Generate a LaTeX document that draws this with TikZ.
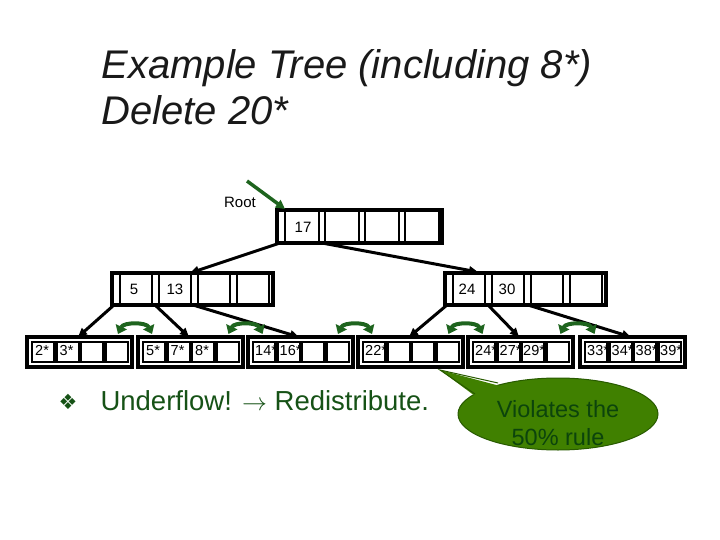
\documentclass[tikz,border=0pt]{standalone}
\usepackage{fontspec}
\setmainfont{Liberation Sans}
\newfontfamily\dingfont{DejaVu Sans}
\usetikzlibrary{arrows.meta,shapes.geometric}
\definecolor{treegreen}{RGB}{30,100,30}
\definecolor{bubblegreen}{RGB}{64,128,0}
\definecolor{bubbleedge}{RGB}{40,90,0}
\definecolor{textgreen}{RGB}{22,82,22}
\definecolor{bubbletext}{RGB}{12,68,12}

\begin{document}
\begin{tikzpicture}[x=1pt, y=-1pt,
        ptr/.style={line width=3pt, -{Triangle[length=9pt,width=8pt]}},
        swing/.style={treegreen, line width=4pt, {Triangle[length=8pt,width=12pt]}-{Triangle[length=8pt,width=12pt]}},
        key/.style={font=\fontsize{15}{17}\selectfont, inner sep=0pt},
        entry/.style={font=\fontsize{14.5}{16}\selectfont, inner sep=0pt, anchor=north west}]
    \useasboundingbox (0,0) rectangle (720,540);

    \node[anchor=base west, font=\fontsize{40}{48}\selectfont\itshape, text=black!90] (title) at (98,79) {Example Tree (including 8*)};
    \node[anchor=base west, font=\fontsize{40}{48}\selectfont\itshape, text=black!90] (subtitle) at (98,125) {Delete 20*};

    % root
    \draw[line width=3.5pt] (277,210) rectangle (442,243);
    \foreach \i in {0,...,3} {
        \draw[line width=2.5pt] (285+40*\i,210) rectangle ++(34,33);
    }
    \node[key] (k17) at (303,227) {17};

    % inner nodes
    \foreach \x in {112,445} {
        \draw[line width=3.5pt] (\x,273) rectangle ++(161,32);
        \foreach \i in {0,...,3} {
            \draw[line width=2.5pt] (\x+8+39*\i,273) rectangle ++(32,32);
        }
    }
    \node[key] (k5) at (134,289) {5};
    \node[key] (k13) at (175,289) {13};
    \node[key] (k24) at (467,289) {24};
    \node[key] (k30) at (507,289) {30};

    % leaves
    \foreach \x [count=\n] in {27,138,248,358,468,580} {
        \draw[line width=3.5pt] (\x,337) rectangle ++(105,30);
        \foreach \i in {0,...,3} {
            \draw[line width=2.5pt] (\x+5+24.5*\i,342) rectangle ++(22.5,20);
        }
        \coordinate (leaf\n) at (\x+51,337);
    }
    \foreach \name/\pos/\txt in {e2/35/2*, e3/59.5/3*,
                                 e5/146/5*, e7/170.5/7*, e8/195/8*,
                                 e14/255/14*, e16/279.5/16*,
                                 e22/365/22*,
                                 e24/475/24*, e27/499.5/27*, e29/523/29*,
                                 e33/587/33*, e34/611.5/34*, e38/635.5/38*, e39/660/39*} {
        \node[entry] (\name) at (\pos,345) {\txt};
    }

    % pointers
    \coordinate (rootp0) at (280,243);
    \coordinate (rootp1) at (322,243);
    \coordinate (inl) at (190,273);
    \coordinate (inr) at (478,272);
    \draw[ptr] (rootp0) -- (inl);
    \draw[ptr] (rootp1) -- (inr);

    \coordinate (lp0) at (114,305);
    \coordinate (lp1) at (155,305);
    \coordinate (lp2) at (193,305);
    \coordinate (rp0) at (447,305);
    \coordinate (rp1) at (488,305);
    \coordinate (rp2) at (528,305);
    \draw[ptr] (lp0) -- (leaf1);
    \draw[ptr] (lp1) -- (leaf2);
    \draw[ptr] (lp2) -- (leaf3);
    \draw[ptr] (rp0) -- (leaf4);
    \draw[ptr] (rp1) -- (leaf5);
    \draw[ptr] (rp2) -- (leaf6);

    % redistribution arrows
    \foreach \g [count=\n] in {135,245.5,355,465.5,577.5} {
        \coordinate (swa\n) at (\g-17,334);
        \coordinate (swb\n) at (\g+17,334);
        \draw[swing] (swa\n) to[bend left=65] (swb\n);
    }

    % root label
    \node[font=\fontsize{15}{18}\selectfont] (rootlbl) at (240,202) {Root};
    \coordinate (rootfrom) at (247,181);
    \coordinate (rootcorner) at (285,209);
    \draw[treegreen, line width=3.5pt, -{Triangle[length=9pt,width=9pt]}] (rootfrom) -- (rootcorner);

    % underflow
    \node[text=textgreen, font=\fontsize{21}{24}\selectfont\dingfont] (bullet) at (68,402) {❖};
    \node[anchor=base west, text=textgreen, font=\fontsize{27.5}{32}\selectfont] (under) at (97,410) {Underflow! $\rightarrow$ Redistribute.};

    % bubble
    \coordinate (tip) at (440,370);
    \node[ellipse, draw=bubbleedge, fill=bubblegreen, line width=1pt, minimum width=200pt, minimum height=72pt] (bubble) at (558,414) {};
    \fill[bubblegreen] (tip) -- (475,396) -- (500,386) -- cycle;
    \draw[bubbleedge, line width=1pt] (475,394) -- (tip) -- (498,383);
    \node[align=center, text=bubbletext, font=\fontsize{23.5}{28}\selectfont] (rule) at (558,423) {Violates the\\50\% rule};
\end{tikzpicture}
\end{document}
